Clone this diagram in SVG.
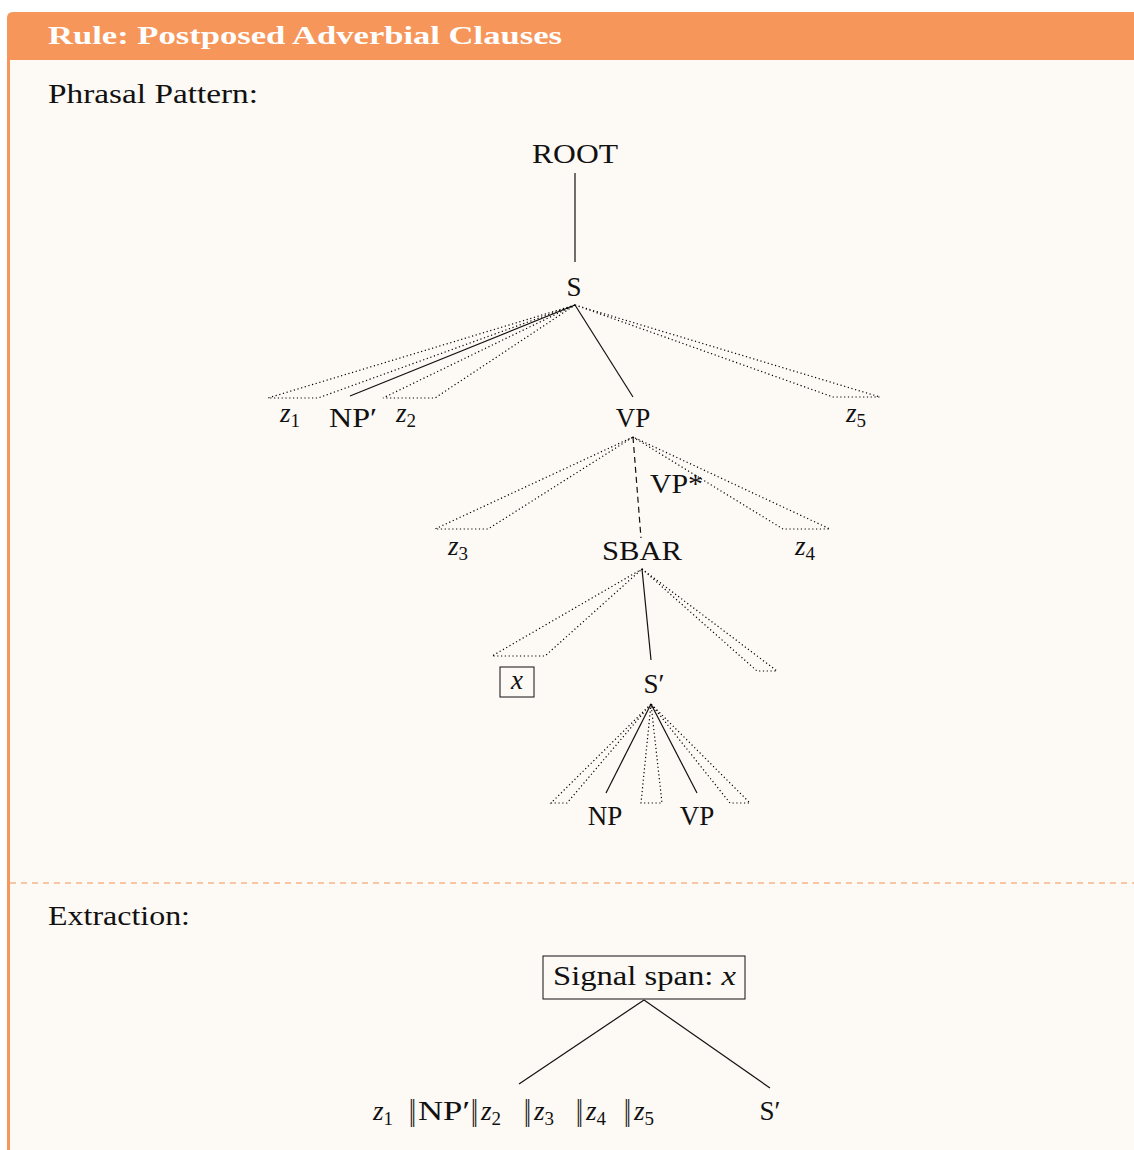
<svg xmlns="http://www.w3.org/2000/svg" width="1134" height="1150" viewBox="0 0 1134 1150">
<style>
.t{font-family:"Liberation Serif","DejaVu Serif",serif;font-size:27px;fill:#111}
.i{font-style:italic}
.sub{font-size:19px}
.bar{font-family:"DejaVu Serif",serif;font-size:27px}
.solid{stroke:#111;stroke-width:1.2;fill:none}
.dot{stroke:#000;stroke-width:1.2;fill:none;stroke-dasharray:1.2 2.6}
.dash{stroke:#111;stroke-width:1.2;fill:none;stroke-dasharray:6 4}
.box{stroke:#111;stroke-width:1;fill:none}
</style>
<rect x="0" y="0" width="1134" height="1150" fill="#ffffff"/>
<path d="M7 1150 V18 Q7 12 13 12 H1134 V1150 Z" fill="#fdf9f5"/>
<path d="M7 60 V18 Q7 12 13 12 H1134 V60 Z" fill="#f7965a"/>
<rect x="7" y="60" width="3" height="1090" fill="#f7965a"/>
<line x1="10" y1="883" x2="1134" y2="883" stroke="#f9c6a4" stroke-width="2" stroke-dasharray="6 5"/>
<text x="48" y="44" font-family="Liberation Serif,serif" font-size="26" font-weight="bold" fill="#ffffff" textLength="514" lengthAdjust="spacingAndGlyphs">Rule: Postposed Adverbial Clauses</text>
<text class="t" x="48" y="103" textLength="210" lengthAdjust="spacingAndGlyphs">Phrasal Pattern:</text>
<text class="t" x="48" y="925" textLength="142" lengthAdjust="spacingAndGlyphs">Extraction:</text>

<g id="connectors">
<line class="solid" x1="575" y1="173" x2="575" y2="262"/>
<line class="solid" x1="575" y1="305" x2="350" y2="396"/>
<line class="solid" x1="575" y1="305" x2="633" y2="397"/>
<path class="dot" d="M575 305 L268 398 L318 398 Z"/>
<path class="dot" d="M575 305 L383 398 L435 398 Z"/>
<path class="dot" d="M575 305 L833 397 L880 397 Z"/>
<line class="dash" x1="633" y1="437" x2="641" y2="538"/>
<path class="dot" d="M633 437 L435 529 L488 529 Z"/>
<path class="dot" d="M633 437 L783 529 L830 529 Z"/>
<line class="solid" x1="642" y1="569" x2="651" y2="660"/>
<path class="dot" d="M642 569 L492 656 L545 656 Z"/>
<path class="dot" d="M642 569 L757 671 L777 671 Z"/>
<line class="solid" x1="651" y1="704" x2="606" y2="793"/>
<line class="solid" x1="651" y1="704" x2="697" y2="793"/>
<path class="dot" d="M651 704 L551 803 L567 803 Z"/>
<path class="dot" d="M651 704 L641 803 L662 803 Z"/>
<path class="dot" d="M651 704 L730 803 L750 803 Z"/>
<line class="solid" x1="644" y1="1000" x2="519" y2="1084"/>
<line class="solid" x1="644" y1="1000" x2="770" y2="1088"/>
</g>

<g id="n-root"><text class="t" x="575" y="163" text-anchor="middle" textLength="86" lengthAdjust="spacingAndGlyphs">ROOT</text></g>
<g id="n-s"><text class="t" x="574" y="296" text-anchor="middle">S</text></g>
<g id="n-z1"><text class="t" x="280" y="422"><tspan class="i">z</tspan><tspan class="sub" dy="5">1</tspan></text></g>
<g id="n-npp"><text class="t" x="329" y="427" textLength="48" lengthAdjust="spacingAndGlyphs">NP′</text></g>
<g id="n-z2"><text class="t" x="396" y="422"><tspan class="i">z</tspan><tspan class="sub" dy="5">2</tspan></text></g>
<g id="n-vp"><text class="t" x="633" y="427" text-anchor="middle">VP</text></g>
<g id="n-z5"><text class="t" x="846" y="422"><tspan class="i">z</tspan><tspan class="sub" dy="5">5</tspan></text></g>
<g id="l-vpstar"><text class="t" x="650" y="493" textLength="53" lengthAdjust="spacingAndGlyphs">VP*</text></g>
<g id="n-z3"><text class="t" x="448" y="555"><tspan class="i">z</tspan><tspan class="sub" dy="5">3</tspan></text></g>
<g id="n-sbar"><text class="t" x="642" y="560" text-anchor="middle" textLength="80" lengthAdjust="spacingAndGlyphs">SBAR</text></g>
<g id="n-z4"><text class="t" x="795" y="555"><tspan class="i">z</tspan><tspan class="sub" dy="5">4</tspan></text></g>
<g id="n-x"><rect class="box" x="500" y="667" width="34" height="30"/><text class="t i" x="517" y="689" text-anchor="middle">x</text></g>
<g id="n-sp"><text class="t" x="654" y="693" text-anchor="middle">S′</text></g>
<g id="n-np"><text class="t" x="605" y="825" text-anchor="middle">NP</text></g>
<g id="n-vp2"><text class="t" x="697" y="825" text-anchor="middle">VP</text></g>

<g id="n-signal"><rect class="box" x="543" y="956" width="202" height="43"/><text class="t" x="553" y="985" textLength="183" lengthAdjust="spacingAndGlyphs">Signal span: <tspan class="i">x</tspan></text></g>
<g id="n-seq"><text class="t" y="1120"><tspan class="i" x="373">z</tspan><tspan class="sub" dy="5">1</tspan><tspan class="bar" dy="-5" x="409" textLength="7" lengthAdjust="spacingAndGlyphs">‖</tspan><tspan x="418" textLength="52" lengthAdjust="spacingAndGlyphs">NP′</tspan><tspan class="bar" x="471" textLength="7" lengthAdjust="spacingAndGlyphs">‖</tspan><tspan class="i" x="481">z</tspan><tspan class="sub" dy="5">2</tspan><tspan class="bar" dy="-5" x="524" textLength="7" lengthAdjust="spacingAndGlyphs">‖</tspan><tspan class="i" x="534">z</tspan><tspan class="sub" dy="5">3</tspan><tspan class="bar" dy="-5" x="576" textLength="7" lengthAdjust="spacingAndGlyphs">‖</tspan><tspan class="i" x="586">z</tspan><tspan class="sub" dy="5">4</tspan><tspan class="bar" dy="-5" x="624" textLength="7" lengthAdjust="spacingAndGlyphs">‖</tspan><tspan class="i" x="634">z</tspan><tspan class="sub" dy="5">5</tspan></text></g>
<g id="n-sp2"><text class="t" x="770" y="1120" text-anchor="middle">S′</text></g>
</svg>
